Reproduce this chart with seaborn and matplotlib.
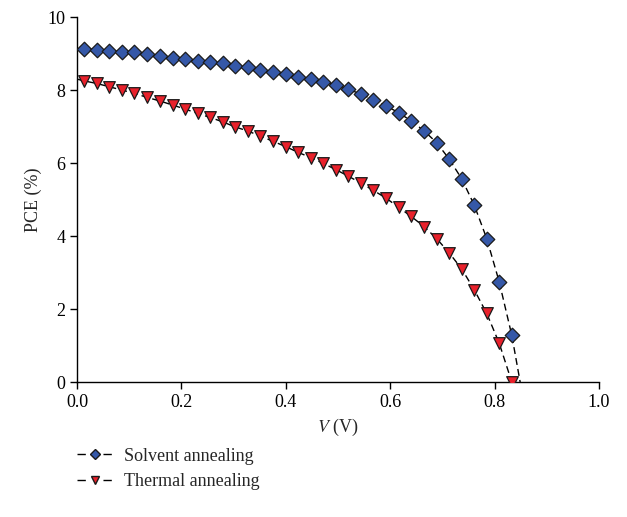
import numpy as np
import pandas as pd
import matplotlib
matplotlib.use("Agg")
import matplotlib.pyplot as plt
from matplotlib.lines import Line2D
import seaborn as sns

# Data
voltage = [0.014, 0.038, 0.062, 0.086, 0.110, 0.134, 0.159, 0.183, 0.207, 0.231,
           0.255, 0.279, 0.303, 0.327, 0.351, 0.375, 0.400, 0.424, 0.448, 0.472,
           0.496, 0.520, 0.544, 0.568, 0.592, 0.616, 0.640, 0.665, 0.689, 0.713,
           0.737, 0.761, 0.785, 0.809, 0.833]
pce_solvent = [9.12, 9.11, 9.07, 9.05, 9.03, 8.99, 8.93, 8.89, 8.84, 8.80,
               8.76, 8.73, 8.66, 8.62, 8.56, 8.49, 8.43, 8.37, 8.31, 8.23,
               8.15, 8.02, 7.89, 7.73, 7.57, 7.38, 7.16, 6.88, 6.56, 6.11,
               5.57, 4.85, 3.93, 2.74, 1.28]
pce_thermal = [8.25, 8.18, 8.09, 8.00, 7.91, 7.80, 7.70, 7.59, 7.48, 7.36,
               7.25, 7.13, 6.99, 6.88, 6.74, 6.60, 6.45, 6.29, 6.15, 5.99,
               5.82, 5.64, 5.45, 5.25, 5.04, 4.79, 4.54, 4.26, 3.93, 3.54,
               3.10, 2.53, 1.88, 1.06, 0.00]
# fitted-curve end points (dashed lines)
solvent_line_start = (0.0, 9.13)
solvent_line_end = (0.849, 0.0)
thermal_line_start = (0.0, 8.30)

series_names = ["Solvent annealing", "Thermal annealing"]
xticks = [0.0, 0.2, 0.4, 0.6, 0.8, 1.0]
yticks = [0, 2, 4, 6, 8, 10]

blue = "#3558A8"
red = "#E8212B"

sns.set_style("white")
plt.rcParams['font.family'] = ['Liberation Serif', 'DejaVu Serif']
plt.rcParams['mathtext.fontset'] = 'stix'

fig = plt.figure(figsize=(6.27, 5.17), dpi=100)
ax = fig.add_axes([0.1228, 0.261, 0.8325, 0.706])

sol_line = pd.DataFrame({
    "V": [solvent_line_start[0]] + voltage + [solvent_line_end[0]],
    "PCE": [solvent_line_start[1]] + pce_solvent + [solvent_line_end[1]],
})
th_line = pd.DataFrame({
    "V": [thermal_line_start[0]] + voltage,
    "PCE": [thermal_line_start[1]] + pce_thermal,
})

for d in (sol_line, th_line):
    sns.lineplot(data=d, x="V", y="PCE", ax=ax, color="black", lw=1.0,
                 linestyle=(0, (5, 3)), sort=False, estimator=None)

sns.scatterplot(x=voltage, y=pce_solvent, ax=ax, marker="D", s=55,
                color=blue, edgecolor="#1a1a1a", linewidth=0.9, zorder=3)
sns.scatterplot(x=voltage, y=pce_thermal, ax=ax, marker="v", s=70,
                color=red, edgecolor="#1a1a1a", linewidth=0.9, zorder=3)

ax.set_xlim(0, 1.0)
ax.set_ylim(0, 10)
ax.set_xticks(xticks)
ax.set_xticklabels([f"{t:.1f}" for t in xticks])
ax.set_yticks(yticks)
ax.set_yticklabels([str(t) for t in yticks])
for s in ["top", "right"]:
    ax.spines[s].set_visible(False)
for s in ["left", "bottom"]:
    ax.spines[s].set_color("black")
    ax.spines[s].set_linewidth(1.0)
ax.tick_params(axis="both", direction="out", length=5, width=1.0,
               labelsize=13, colors="black", bottom=True, left=True)
ax.set_ylabel("PCE (%)", fontsize=13)
ax.set_xlabel(r"$V$ (V)", fontsize=13)

handles = [
    Line2D([], [], color="black", lw=1.0, linestyle=(0, (6, 12.7)), marker="D",
           markersize=5, markerfacecolor=blue, markeredgecolor="#1a1a1a"),
    Line2D([], [], color="black", lw=1.0, linestyle=(0, (6, 12.7)), marker="v",
           markersize=6, markerfacecolor=red, markeredgecolor="#1a1a1a"),
]
fig.legend(handles, series_names, loc="upper left",
           bbox_to_anchor=(0.112, 0.148), frameon=False, fontsize=13,
           handlelength=1.9, handletextpad=0.7, labelspacing=0.45,
           borderaxespad=0)

fig.savefig("out.png", dpi=100)
